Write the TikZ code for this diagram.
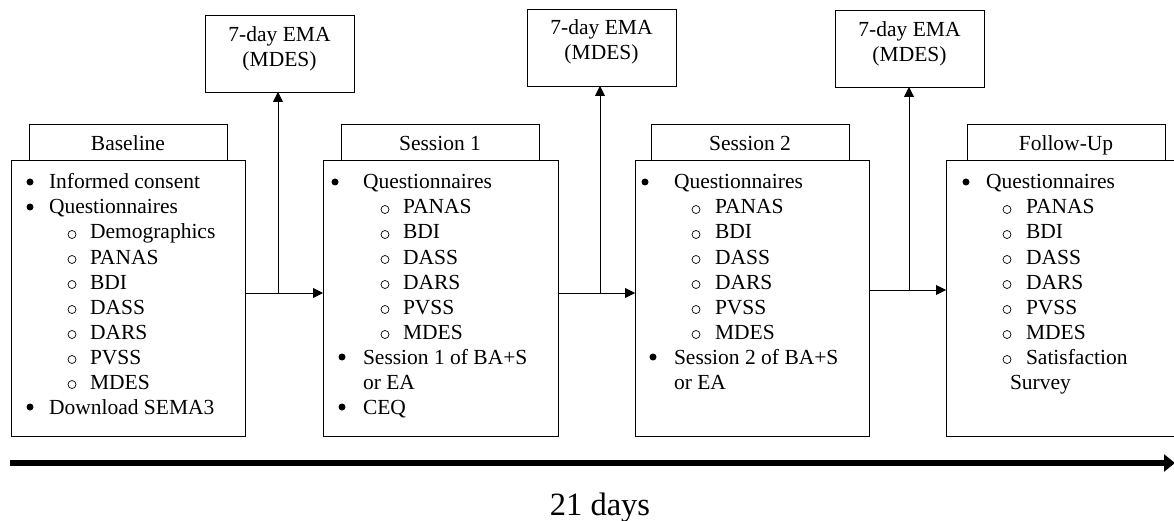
\documentclass[tikz,border=0pt]{standalone}
\usepackage{fontspec}
\setmainfont{Liberation Serif}
\usetikzlibrary{arrows.meta}
\newcommand\itm[6]{\node[#5] (#1m) at (#2,{189+25*#4-\csname off#5\endcsname}) {};\node[anchor=base west] (#1) at (#3,189+25*#4) {#6};}
\newcommand\cont[4]{\node[anchor=base west] (#1) at (#2,189+25*#3) {#4};}
\def\offbu{7}
\def\offci{4.5}
\begin{document}
\begin{tikzpicture}[x=1pt,y=-1pt,
  every node/.style={inner sep=0pt,outer sep=0pt},
  font=\fontsize{21.5}{25}\selectfont,
  bu/.style={circle,fill=black,minimum size=7pt},
  ci/.style={circle,draw=black,line width=0.7pt,minimum size=8pt},
  box/.style={draw=black,line width=0.9pt,anchor=north west},
  hdr/.style={box,minimum width=198pt,minimum height=36pt,text height=18pt,text depth=0pt},
  mainbox/.style={box,minimum height=276pt},
  emabox/.style={box,minimum width=149pt,minimum height=77pt},
  conn/.style={line width=0.9pt},
  arr/.style={conn,-{Triangle[length=10pt,width=10pt]}}]
\clip (0,0) rectangle (1174,521);

% EMA boxes
\node[emabox] (ema1) at (205,15) {};
\node[emabox] (ema2) at (527,9) {};
\node[emabox] (ema3) at (835,10) {};
\node[anchor=base] (ema1a) at (279.5,42) {7-day EMA};
\node[anchor=base] (ema1b) at (279.5,67) {(MDES)};
\node[anchor=base] (ema2a) at (601.5,35) {7-day EMA};
\node[anchor=base] (ema2b) at (601.5,60) {(MDES)};
\node[anchor=base] (ema3a) at (909.5,37) {7-day EMA};
\node[anchor=base] (ema3b) at (909.5,62) {(MDES)};

% headers
\node[hdr] (h0) at (29,124) {Baseline};
\node[hdr] (h1) at (341,124) {Session 1};
\node[hdr] (h2) at (651,124) {Session 2};
\node[hdr] (h3) at (967,124) {Follow-Up};

% main boxes
\node[mainbox,minimum width=234pt] (m0) at (11,160) {};
\node[mainbox,minimum width=235pt] (m1) at (323,160) {};
\node[mainbox,minimum width=234pt] (m2) at (635,160) {};
\node[mainbox,minimum width=260pt] (m3) at (946,160) {};

% Baseline list
\itm{b0}{30}{49}{0}{bu}{Informed consent}
\itm{b1}{30}{49}{1}{bu}{Questionnaires}
\itm{b2}{72}{90}{2}{ci}{Demographics}
\itm{b3}{72}{90}{3}{ci}{PANAS}
\itm{b4}{72}{90}{4}{ci}{BDI}
\itm{b5}{72}{90}{5}{ci}{DASS}
\itm{b6}{72}{90}{6}{ci}{DARS}
\itm{b7}{72}{90}{7}{ci}{PVSS}
\itm{b8}{72}{90}{8}{ci}{MDES}
\itm{b9}{30}{49}{9}{bu}{Download SEMA3}

% Session 1 list
\itm{s0}{335}{363}{0}{bu}{Questionnaires}
\itm{s1}{385}{403}{1}{ci}{PANAS}
\itm{s2}{385}{403}{2}{ci}{BDI}
\itm{s3}{385}{403}{3}{ci}{DASS}
\itm{s4}{385}{403}{4}{ci}{DARS}
\itm{s5}{385}{403}{5}{ci}{PVSS}
\itm{s6}{385}{403}{6}{ci}{MDES}
\itm{s7}{342}{363}{7}{bu}{Session 1 of BA+S}
\cont{s8}{363}{8}{or EA}
\itm{s9}{342}{363}{9}{bu}{CEQ}

% Session 2 list
\itm{t0}{645}{674}{0}{bu}{Questionnaires}
\itm{t1}{696}{715}{1}{ci}{PANAS}
\itm{t2}{696}{715}{2}{ci}{BDI}
\itm{t3}{696}{715}{3}{ci}{DASS}
\itm{t4}{696}{715}{4}{ci}{DARS}
\itm{t5}{696}{715}{5}{ci}{PVSS}
\itm{t6}{696}{715}{6}{ci}{MDES}
\itm{t7}{653}{674}{7}{bu}{Session 2 of BA+S}
\cont{t8}{674}{8}{or EA}

% Follow-up list
\itm{f0}{966}{986}{0}{bu}{Questionnaires}
\itm{f1}{1007}{1026}{1}{ci}{PANAS}
\itm{f2}{1007}{1026}{2}{ci}{BDI}
\itm{f3}{1007}{1026}{3}{ci}{DASS}
\itm{f4}{1007}{1026}{4}{ci}{DARS}
\itm{f5}{1007}{1026}{5}{ci}{PVSS}
\itm{f6}{1007}{1026}{6}{ci}{MDES}
\itm{f7}{1007}{1026}{7}{ci}{Satisfaction}
\cont{f8}{1010}{8}{Survey}

% connectors
\coordinate (j1) at (278,293);
\coordinate (j2) at (600,293);
\coordinate (j3) at (909,290);
\draw[arr] (m0.east |- j1) -- (m1.west |- j1);
\draw[arr] (j1) -- (ema1.south -| j1);
\draw[arr] (m1.east |- j2) -- (m2.west |- j2);
\draw[arr] (j2) -- (ema2.south -| j2);
\draw[arr] (m2.east |- j3) -- (m3.west |- j3);
\draw[arr] (j3) -- (ema3.south -| j3);

% timeline
\coordinate (tl0) at (10,463);
\coordinate (tl1) at (1175,463);
\draw[line width=6pt,-{Triangle[length=11pt,width=17pt]}] (tl0) -- (tl1);
\node[anchor=base,font=\fontsize{32.5}{36}\selectfont] (days) at (600,515) {21 days};
\end{tikzpicture}
\end{document}
